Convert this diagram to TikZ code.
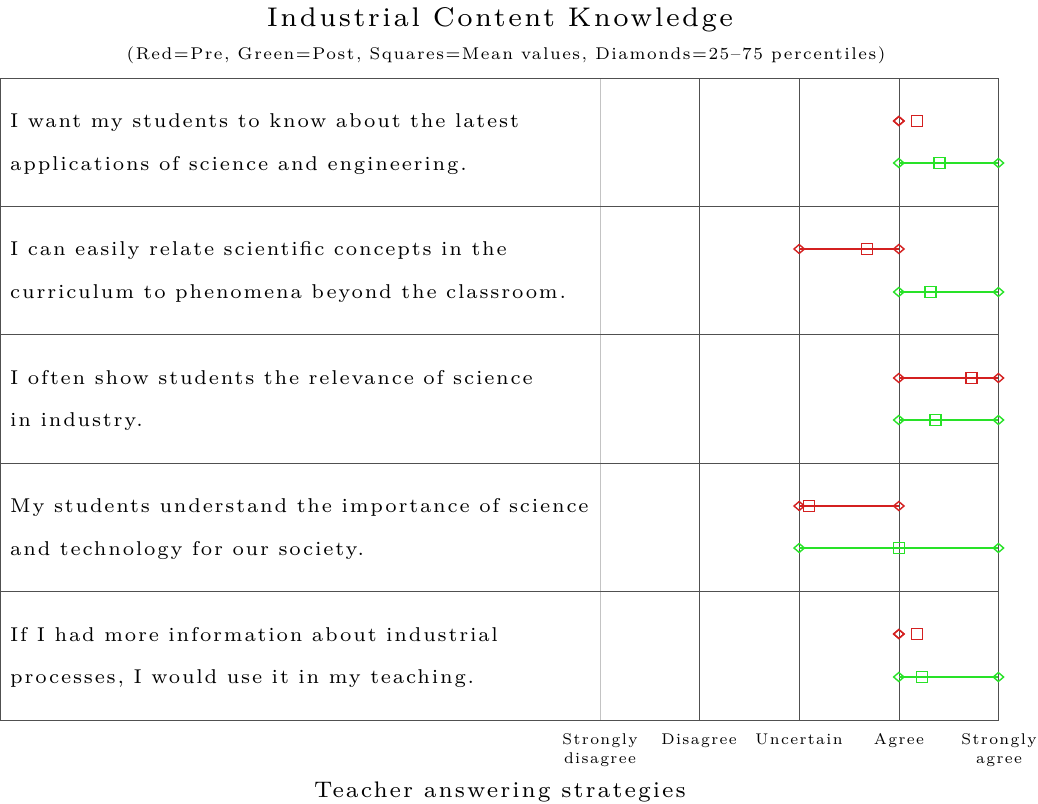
\documentclass[tikz,border=0pt]{standalone}
\usepackage{fontspec}
\setmainfont{lmroman7-regular.otf}[LetterSpace=9]
\usetikzlibrary{shapes.geometric}
\definecolor{prered}{RGB}{212,32,32}
\definecolor{postgreen}{RGB}{40,226,40}
\definecolor{gridgray}{RGB}{80,80,80}
\definecolor{lightgrid}{RGB}{195,195,195}
\begin{document}
\begin{tikzpicture}[x=1pt,y=-1pt,
  itemtext/.style={anchor=base west,inner sep=0pt,font=\fontsize{20}{22}\selectfont},
  scalelabel/.style={anchor=north,inner sep=0pt,align=center,font=\fontsize{15.5}{19}\selectfont},
  gridline/.style={draw=gridgray,line width=1pt},
  meanbox/.style={rectangle,draw,inner sep=0pt,minimum size=11pt,line width=1.4pt},
  pctmark/.style={diamond,draw,inner sep=0pt,minimum width=11pt,minimum height=9.5pt,line width=1.4pt},
  prestyle/.style={prered},
  poststyle/.style={postgreen},
  rangeline/.style={line width=1.4pt}]
\useasboundingbox (0,0) rectangle (1038,803);

% titles
\node[inner sep=0pt,anchor=base,font=\fontsize{27}{30}\selectfont] (title) at (500,27) {Industrial Content Knowledge};
\node[inner sep=0pt,anchor=base,font=\fontsize{17}{20}\selectfont] (subtitle) at (506,59) {(Red=Pre, Green=Post, Squares=Mean values, Diamonds=25--75 percentiles)};

% table grid
\draw[lightgrid,line width=1pt] (600,78) -- (600,720);
\foreach \gx in {699,799,899} \draw[gridline] (\gx,78) -- (\gx,720);
\foreach \gy in {206.4,334.8,463.2,591.6} \draw[gridline] (0,\gy) -- (998,\gy);
\draw[gridline] (0.5,78) rectangle (998,720);

% statements
\node[itemtext] (s1a) at (10,127.5) {I want my students to know about the latest};
\node[itemtext] (s1b) at (10,170) {applications of science and engineering.};
\node[itemtext] (s2a) at (10,255.5) {I can easily relate scientific concepts in the};
\node[itemtext] (s2b) at (10,298.5) {curriculum to phenomena beyond the classroom.};
\node[itemtext] (s3a) at (10,384) {I often show students the relevance of science};
\node[itemtext] (s3b) at (10,426.5) {in industry.};
\node[itemtext] (s4a) at (10,512.5) {My students understand the importance of science};
\node[itemtext] (s4b) at (10,555) {and technology for our society.};
\node[itemtext] (s5a) at (10,641) {If I had more information about industrial};
\node[itemtext] (s5b) at (10,683.5) {processes, I would use it in my teaching.};

% answer scale
\node[scalelabel] (sd) at (600,733.5) {Strongly\\disagree};
\node[scalelabel] (di) at (699,733.5) {Disagree};
\node[scalelabel] (un) at (799,733.5) {Uncertain};
\node[scalelabel] (ag) at (899,733.5) {Agree};
\node[scalelabel] (sa) at (999,733.5) {Strongly\\agree};
\node[inner sep=0pt,anchor=base,font=\fontsize{22.5}{26}\selectfont] (axis) at (500,797) {Teacher answering strategies};

% pre/post results: row, colour, y, lower quartile, mean, upper quartile
\foreach \r/\c/\yy/\lo/\mn/\hi in {
  1/prestyle/121/4/4.18/4, 1/poststyle/163/4/4.41/5,
  2/prestyle/249/3/3.68/4, 2/poststyle/292/4/4.32/5,
  3/prestyle/378/4/4.73/5, 3/poststyle/420/4/4.37/5,
  4/prestyle/506/3/3.10/4, 4/poststyle/548/3/4.00/5,
  5/prestyle/634/4/4.18/4, 5/poststyle/677/4/4.23/5} {
  \node[pctmark,\c] (lo-\r-\c) at ({600+(\lo-1)*99.6},\yy) {};
  \node[pctmark,\c] (hi-\r-\c) at ({600+(\hi-1)*99.6},\yy) {};
  \node[meanbox,\c] (mn-\r-\c) at ({600+(\mn-1)*99.6},\yy) {};
  \draw[rangeline,\c] (lo-\r-\c.center) -- (hi-\r-\c.center);
}
\end{tikzpicture}
\end{document}
